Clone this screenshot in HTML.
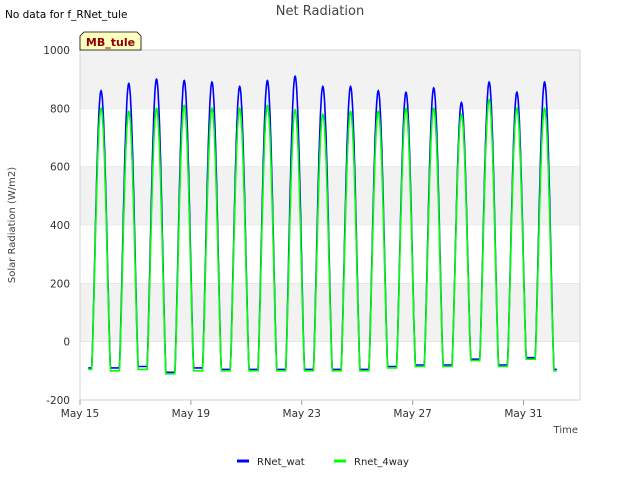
<!DOCTYPE html>
<html><head><meta charset="utf-8"><style>
body{margin:0;background:#fff;font-family:"Liberation Sans",sans-serif;}
svg text{font-family:"DejaVu Sans","Liberation Sans",sans-serif;}
</style></head><body>
<svg width="640" height="480" xmlns="http://www.w3.org/2000/svg" id="chart">
<rect width="640" height="480" fill="#fff"/>
<text x="5" y="18" font-size="10.5" fill="#000">No data for f_RNet_tule</text>
<text x="320" y="15" font-size="13" fill="#444" text-anchor="middle">Net Radiation</text>
<g id="plot"></g>
<g id="axes"></g>
<g>
<path d="M80,50 L80,36 L84,32 L137,32 L141,36 L141,50 Z" fill="#ffffc0" stroke="#000" stroke-width="0.8"/>
<text x="110.5" y="46" font-size="11" font-weight="bold" fill="#8b0000" text-anchor="middle">MB_tule</text>
</g>
<text x="15" y="225" font-size="10" fill="#444" text-anchor="middle" transform="rotate(-90 15 225)">Solar Radiation (W/m2)</text>
<text x="578" y="433" font-size="10" fill="#444" text-anchor="end">Time</text>
<g>
<g><line x1="237" y1="461" x2="249" y2="461" stroke="#0000ff" stroke-width="3"/><text x="257" y="465" font-size="10" fill="#222">RNet_wat</text></g>
<g><line x1="334" y1="461" x2="346" y2="461" stroke="#00ff00" stroke-width="3"/><text x="354" y="465" font-size="10" fill="#222">Rnet_4way</text></g>
</g>
</svg>
<script>
const yTicks=[-200,0,200,400,600,800,1000];
const xTickDays=[0,4,8,12,16];
const xTickLabels=["May 15","May 19","May 23","May 27","May 31"];
const peakDays=[0.76,1.76,2.76,3.76,4.76,5.76,6.76,7.76,8.76,9.76,10.76,11.76,12.76,13.76,14.76,15.76,16.76];
const watPeaks=[860,885,900,895,890,875,895,910,875,875,860,855,870,820,890,855,890];
const wayPeaks=[800,790,800,810,800,800,810,795,780,790,790,800,800,780,830,800,800];
const watNight=[-90,-90,-85,-105,-90,-95,-95,-95,-95,-95,-95,-85,-80,-80,-60,-80,-55,-95];
const wayNight=[-95,-100,-95,-110,-100,-100,-100,-100,-100,-100,-100,-90,-85,-85,-65,-85,-60,-100];
const startDay=0.3,endDay=17.2;
const X0=80,X1=580,Y0=50,Y1=400;
function xs(d){return X0+d*27.72;}
function ys(v){return Y1-(v+200)/1200*(Y1-Y0);}
const NS="http://www.w3.org/2000/svg";
const plot=document.getElementById('plot'),axes=document.getElementById('axes');
function mk(t,a,p){const e=document.createElementNS(NS,t);for(const k in a)e.setAttribute(k,a[k]);(p||plot).appendChild(e);return e;}
mk('rect',{x:X0,y:Y0,width:X1-X0,height:Y1-Y0,fill:'#fff'});
for(let i=0;i<yTicks.length-1;i++){
 if(i%2==1){const b=mk('rect',{x:X0,y:ys(yTicks[i+1]),width:X1-X0,height:ys(yTicks[i])-ys(yTicks[i+1]),fill:'#f2f2f2'});
 
 }
}
yTicks.forEach(v=>{const l=mk('line',{x1:X0,x2:X1,y1:ys(v),y2:ys(v),stroke:'#e0e0e0','stroke-width':0.6});
 
 
 const t=mk('text',{x:X0-10,y:ys(v)+4,'font-size':10.5,fill:'#333','text-anchor':'end'},axes);t.textContent=v;
 
 });
xTickDays.forEach((d,i)=>{mk('line',{x1:xs(d),x2:xs(d),y1:Y1,y2:Y1+5,stroke:'#999'},axes);
 const t=mk('text',{x:xs(d),y:Y1+17,'font-size':10.5,fill:'#333','text-anchor':'middle'},axes);t.textContent=xTickLabels[i];
 
 });
mk('rect',{x:X0,y:Y0,width:X1-X0,height:Y1-Y0,fill:'none',stroke:'#ccc','stroke-width':0.8},axes);
function series(peaks,nights,color,name){
 let pts=[];
 for(let d=startDay;d<=endDay;d+=0.01){
  let k=Math.round(d-0.76);if(k<0)k=0;if(k>=peaks.length)k=peaks.length-1;
  const dd=d-peakDays[k];
  const n=nights[dd<0?k:k+1];
  let v=n;
  if(Math.abs(dd)<0.34){const s=Math.cos(dd/0.34*Math.PI/2);v=n+(peaks[k]-n)*Math.pow(s,1.3);}
  pts.push(xs(d).toFixed(1)+','+ys(v).toFixed(1));
 }
 const p=mk('polyline',{points:pts.join(' '),fill:'none',stroke:color,'stroke-width':1.6});
 
 
}
series(watPeaks,watNight,'#0000ff','series-rnet-wat');
series(wayPeaks,wayNight,'#00ff00','series-rnet-4way');
</script>
</body></html>
